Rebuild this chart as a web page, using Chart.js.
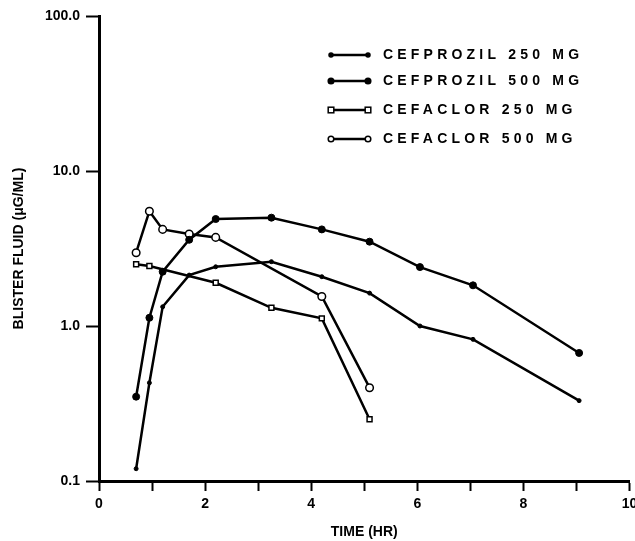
<!DOCTYPE html>
<html>
<head>
<meta charset="utf-8">
<script src="https://cdn.jsdelivr.net/npm/chart.js@4"></script>
<style>
  html, body { margin: 0; padding: 0; background: #fff; }
  #wrap { width: 635px; height: 541px; }
</style>
</head>
<body>
<div id="wrap"><canvas id="myChart"></canvas></div>
<script>
// values (time in hours, concentration in µg/mL)
const cefprozil250Times = [0.7, 0.95, 1.2, 1.7, 2.2, 3.25, 4.2, 5.1, 6.05, 7.05, 9.05];
const cefprozil250 = [0.12, 0.43, 1.33, 2.13, 2.41, 2.6, 2.08, 1.63, 1.0, 0.82, 0.33];
const cefprozil500Times = [0.7, 0.95, 1.2, 1.7, 2.2, 3.25, 4.2, 5.1, 6.05, 7.05, 9.05];
const cefprozil500 = [0.35, 1.13, 2.24, 3.6, 4.9, 5.0, 4.2, 3.5, 2.4, 1.83, 0.67];
const cefaclor250Times = [0.7, 0.95, 2.2, 3.25, 4.2, 5.1];
const cefaclor250 = [2.5, 2.44, 1.9, 1.31, 1.12, 0.25];
const cefaclor500Times = [0.7, 0.95, 1.2, 1.7, 2.2, 4.2, 5.1];
const cefaclor500 = [2.97, 5.5, 4.2, 3.92, 3.73, 1.55, 0.40];

const seriesLabels = ['CEFPROZIL 250 MG', 'CEFPROZIL 500 MG', 'CEFACLOR 250 MG', 'CEFACLOR 500 MG'];
const yTicks = [0.1, 1, 10, 100];
const xMin = 0, xMax = 10;

const FONT = '"Liberation Sans", Arial, Helvetica, sans-serif';

function toPoints(times, values) {
    return times.map((t, i) => ({ x: t, y: values[i] }));
}

function makeDataset(label, times, values, style) {
    return Object.assign({
        label: label,
        data: toPoints(times, values),
        borderColor: '#000',
        borderWidth: 2.5,
        pointBorderColor: '#000',
        tension: 0
    }, style);
}

// draws the small legend in the upper right, line sample + marker at both ends
const legendPlugin = {
    id: 'cornerLegend',
    afterDraw(chart) {
        const ctx = chart.ctx;
        const rows = [55, 81, 110, 139];
        ctx.save();
        chart.data.datasets.forEach((ds, i) => {
            const y = rows[i];
            ctx.strokeStyle = '#000';
            ctx.lineWidth = 2.5;
            ctx.beginPath();
            ctx.moveTo(331, y);
            ctx.lineTo(368, y);
            ctx.stroke();
            [331, 368].forEach(px => {
                ctx.lineWidth = 1.5;
                ctx.fillStyle = ds.pointBackgroundColor;
                ctx.strokeStyle = '#000';
                const r = Math.min(ds.pointRadius, 2.8);
                if (ds.pointStyle === 'rect') {
                    ctx.fillRect(px - r, y - r, 2 * r, 2 * r);
                    ctx.strokeRect(px - r, y - r, 2 * r, 2 * r);
                } else {
                    ctx.beginPath();
                    ctx.arc(px, y, r, 0, Math.PI * 2);
                    ctx.fill();
                    ctx.stroke();
                }
            });
            ctx.fillStyle = '#000';
            ctx.font = 'bold 14px ' + FONT;
            ctx.letterSpacing = '4.2px';
            ctx.textBaseline = 'middle';
            ctx.textAlign = 'left';
            ctx.fillText(ds.label, 383, y);
        });
        ctx.restore();
    }
};

const ctx = document.getElementById('myChart').getContext('2d');
const myChart = new Chart(ctx, {
    type: 'line',
    data: {
        datasets: [
            makeDataset(seriesLabels[0], cefprozil250Times, cefprozil250, {
                pointStyle: 'circle', pointRadius: 2, pointBackgroundColor: '#000', pointBorderWidth: 1
            }),
            makeDataset(seriesLabels[1], cefprozil500Times, cefprozil500, {
                pointStyle: 'circle', pointRadius: 3.5, pointBackgroundColor: '#000', pointBorderWidth: 1
            }),
            makeDataset(seriesLabels[2], cefaclor250Times, cefaclor250, {
                pointStyle: 'rect', pointRadius: 3.5, pointBackgroundColor: '#fff', pointBorderWidth: 1.5
            }),
            makeDataset(seriesLabels[3], cefaclor500Times, cefaclor500, {
                pointStyle: 'circle', pointRadius: 3.8, pointBackgroundColor: '#fff', pointBorderWidth: 1.5
            })
        ]
    },
    options: {
        responsive: true,
        maintainAspectRatio: false,
        animation: false,
        layout: { padding: { top: 16, right: 5, left: 0, bottom: 0 } },
        plugins: {
            legend: { display: false },
            tooltip: { enabled: false }
        },
        scales: {
            x: {
                type: 'linear',
                min: xMin,
                max: xMax,
                border: { display: true, color: '#000', width: 3 },
                grid: { drawOnChartArea: false, drawTicks: true, tickLength: 10, tickWidth: 2, color: '#000' },
                ticks: {
                    stepSize: 1,
                    color: '#000',
                    padding: 5,
                    maxRotation: 0,
                    font: { family: FONT, size: 14, weight: 'bold' },
                    callback: v => (v % 2 === 0 ? String(v) : '')
                },
                title: {
                    display: true,
                    text: 'TIME (HR)',
                    color: '#000',
                    padding: { top: 4, bottom: 0 },
                    font: { family: FONT, size: 14, weight: 'bold' }
                },
                afterFit: scale => {
                    scale.height = 60;
                    scale.paddingRight = 0;
                    scale.paddingLeft = 0;
                }
            },
            y: {
                type: 'logarithmic',
                min: 0.1,
                max: 100,
                border: { display: true, color: '#000', width: 3 },
                grid: { drawOnChartArea: false, drawTicks: true, tickLength: 13, tickWidth: 2, color: '#000' },
                afterBuildTicks: scale => {
                    scale.ticks = yTicks.map(v => ({ value: v }));
                },
                ticks: {
                    color: '#000',
                    padding: 6,
                    font: { family: FONT, size: 14, weight: 'bold' },
                    callback: v => Number(v).toFixed(1)
                },
                title: {
                    display: true,
                    text: 'BLISTER FLUID (μG/ML)',
                    color: '#000',
                    padding: { top: 11, bottom: 0 },
                    font: { family: FONT, size: 14, weight: 'bold' }
                },
                afterFit: scale => {
                    scale.width = 99;
                }
            }
        }
    },
    plugins: [legendPlugin]
});
</script>
</body>
</html>
